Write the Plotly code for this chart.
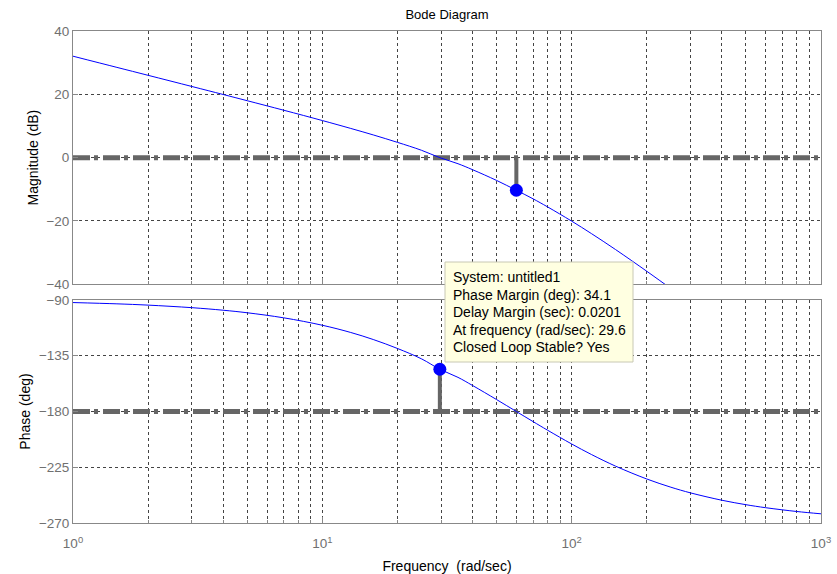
import math
import plotly.graph_objects as go

# ---- data ----
freq_mag = [1, 1.5, 2, 3, 4, 5, 7, 10, 13, 16, 20, 25, 29.6, 35, 40, 50, 60, 70, 80, 100, 120, 150, 200, 250, 300]
mag_db = [32.04, 28.51, 26.01, 22.47, 19.95, 17.98, 14.98, 11.72, 9.23, 7.18, 4.84, 2.32, 0.0, -1.92, -3.79,
          -7.20, -10.3, -13.00, -15.54, -20.05, -23.98, -29.03, -35.87, -41.35, -45.9]

freq_ph = [1, 1.5, 2, 3, 4, 5, 7, 10, 13, 16, 20, 25, 29.6, 35, 40, 50, 60, 70, 80, 100, 120, 150, 200, 250,
           300, 400, 500, 600, 800, 1000]
phase_deg = [-92.07, -93.10, -94.13, -96.20, -98.25, -100.31, -104.38, -110.38, -116.22, -121.88, -129.10,
             -137.53, -145.9, -152.44, -158.96, -170.39, -180.0, -188.13, -195.06, -206.21, -214.70, -224.11,
             -234.46, -241.11, -245.71, -251.61, -255.23, -257.66, -260.72, -262.57]

# margin markers
gm_freq, gm_mag = 60, -10.3        # magnitude at phase crossover
pm_freq, pm_phase = 29.6, -145.9   # phase at gain crossover
mag_ref, phase_ref = 0, -180
freq_range = [1, 1000]

mag_ticks = [-40, -20, 0, 20, 40]
phase_ticks = [-270, -225, -180, -135, -90]
major_freqs = [1, 10, 100, 1000]
major_labels = ["10<sup>0</sup>", "10<sup>1</sup>", "10<sup>2</sup>", "10<sup>3</sup>"]
minor_freqs = [m * 10 ** e for e in range(3) for m in range(2, 10)]

tooltip_lines = ["System: untitled1", "Phase Margin (deg): 34.1", "Delay Margin (sec): 0.0201",
                 "At frequency (rad/sec): 29.6", "Closed Loop Stable? Yes"]

# ---- styling ----
W, H = 837, 574
L, R, T, B = 73, 16, 31, 51
plot_h = H - T - B
def py(y_px):
    return (H - B - y_px) / plot_h
def px(x_px):
    return (x_px - L) / (W - L - R)

FONT = "Liberation Sans, Arial, sans-serif"
BLUE = "#0000ff"
REFGRAY = "#666666"
GRID = "#444444"
AXC = "#888888"
TICKC = "#707070"

fig = go.Figure()

# magnitude panel
fig.add_trace(go.Scatter(x=freq_range, y=[mag_ref, mag_ref], mode="lines",
                         line=dict(color=REFGRAY, width=5, dash="17px,4px,4px,5px"),
                         xaxis="x", yaxis="y", hoverinfo="skip"))
fig.add_trace(go.Scatter(x=[gm_freq, gm_freq], y=[mag_ref, gm_mag], mode="lines",
                         line=dict(color=REFGRAY, width=4), xaxis="x", yaxis="y", hoverinfo="skip"))
fig.add_trace(go.Scatter(x=freq_mag, y=mag_db, mode="lines", line=dict(color=BLUE, width=1, shape="spline"),
                         xaxis="x", yaxis="y"))
fig.add_trace(go.Scatter(x=[gm_freq], y=[gm_mag], mode="markers", marker=dict(color=BLUE, size=13),
                         xaxis="x", yaxis="y"))

# phase panel
fig.add_trace(go.Scatter(x=freq_range, y=[phase_ref, phase_ref], mode="lines",
                         line=dict(color=REFGRAY, width=5, dash="17px,4px,4px,5px"),
                         xaxis="x2", yaxis="y2", hoverinfo="skip"))
fig.add_trace(go.Scatter(x=[pm_freq, pm_freq], y=[phase_ref, pm_phase], mode="lines",
                         line=dict(color=REFGRAY, width=4), xaxis="x2", yaxis="y2", hoverinfo="skip"))
fig.add_trace(go.Scatter(x=freq_ph, y=phase_deg, mode="lines", line=dict(color=BLUE, width=1, shape="spline"),
                         xaxis="x2", yaxis="y2"))
fig.add_trace(go.Scatter(x=[pm_freq], y=[pm_phase], mode="markers", marker=dict(color=BLUE, size=13),
                         xaxis="x2", yaxis="y2"))

xcommon = dict(type="log", range=[math.log10(freq_range[0]), math.log10(freq_range[1])],
               showline=True, linecolor=AXC, linewidth=1, mirror=True, automargin=False,
               showgrid=True, gridcolor=GRID, griddash="3px,3px", gridwidth=1,
               tickmode="array", tickvals=major_freqs, ticks="inside", ticklen=6, tickcolor=AXC,
               minor=dict(tickvals=minor_freqs, showgrid=True, gridcolor=GRID, griddash="3px,3px",
                          gridwidth=1, ticks="inside", ticklen=3, tickcolor=AXC),
               zeroline=False, tickfont=dict(family=FONT, size=13.5, color=TICKC))
ycommon = dict(showline=True, linecolor=AXC, linewidth=1, mirror=True, automargin=False,
               showgrid=True, gridcolor=GRID, griddash="3px,3px", gridwidth=1,
               ticks="inside", ticklen=5, tickcolor=AXC, zeroline=False,
               tickfont=dict(family=FONT, size=13.5, color=TICKC))

top_lo = py(284.3)
bot_hi = py(300)

fig.update_layout(
    width=W, height=H,
    margin=dict(l=L, r=R, t=T, b=B),
    paper_bgcolor="white", plot_bgcolor="white",
    showlegend=False,
    font=dict(family=FONT, size=13, color="black"),
    title=dict(text="Bode Diagram", x=px(447), xanchor="center", xref="paper", y=1 - 14 / H, yanchor="middle",
               font=dict(family=FONT, size=13, color="black")),
    xaxis=dict(xcommon, domain=[0, 1], anchor="y", showticklabels=False),
    yaxis=dict(ycommon, domain=[top_lo, 1], anchor="x", range=[-40, 40], tickvals=mag_ticks,
               title=dict(text="Magnitude (dB)", standoff=4, font=dict(family=FONT, size=14, color="black"))),
    xaxis2=dict(xcommon, domain=[0, 1], anchor="y2", ticktext=major_labels, showticklabels=True,
                ticklabelstandoff=8,
                title=dict(text="Frequency  (rad/sec)", standoff=10, font=dict(family=FONT, size=14, color="black"))),
    yaxis2=dict(ycommon, domain=[0, bot_hi], anchor="x2", range=[-270, -90], tickvals=phase_ticks,
                title=dict(text="Phase (deg)", standoff=4, font=dict(family=FONT, size=14, color="black"))),
)

# tooltip box
fig.add_shape(type="rect", xref="paper", yref="paper", x0=px(445), x1=px(633), y0=py(362), y1=py(262),
              fillcolor="#ffffe1", line=dict(color="#c8c8b4", width=1), layer="above")
line_y = [277, 294.5, 312, 329.5, 347]
for txt, yy in zip(tooltip_lines, line_y):
    fig.add_annotation(text=txt, xref="paper", yref="paper", x=px(451), y=py(yy), xanchor="left",
                       yanchor="middle", showarrow=False, font=dict(family=FONT, size=14, color="black"))

fig.write_html("out.html")
